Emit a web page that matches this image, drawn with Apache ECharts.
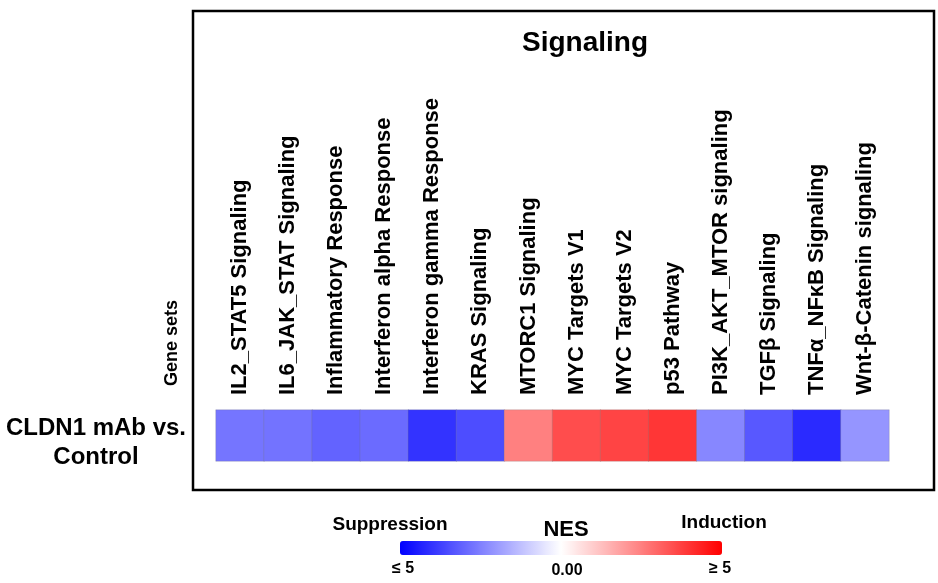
<!DOCTYPE html>
<html>
<head>
<meta charset="utf-8">
<script src="https://cdn.jsdelivr.net/npm/echarts@6/dist/echarts.min.js"></script>
<style>html,body{margin:0;padding:0;background:#fff;}#c{width:938px;height:583px;}</style>
</head>
<body>
<div id="c"></div>
<script>
const geneSets = ['IL2_STAT5 Signaling','IL6_JAK_STAT Signaling','Inflammatory Response','Interferon alpha Response','Interferon gamma Response','KRAS Signaling','MTORC1 Signaling','MYC Targets V1','MYC Targets V2','p53 Pathway','PI3K_AKT_MTOR signaling','TGFβ Signaling','TNFα_NFκB Signaling','Wnt-β-Catenin signaling'];
const comparisons = ['CLDN1 mAb vs.\nControl'];
const nesValues = [-2.7, -2.75, -3.05, -2.9, -4.0, -3.5, 2.5, 3.5, 3.67, 3.95, -2.35, -3.27, -4.18, -2.08];
const nesMin = -5, nesMax = 5;

const FONT = 'Liberation Sans, Arial, sans-serif';
const data = nesValues.map((v, i) => [i, 0, v]);
const rowFont = {fontFamily: FONT, fontSize: 24, fontWeight: 'bold', color: '#000', align: 'center'};

const chart = echarts.init(document.getElementById('c'), null, {renderer: 'canvas'});
chart.setOption({
  animation: false,
  backgroundColor: '#fff',
  title: {
    text: 'Signaling', left: 580, top: 24, textAlign: 'center',
    textStyle: {fontFamily: FONT, fontSize: 28, fontWeight: 'bold', color: '#000'}
  },
  grid: {left: 216, top: 410, width: 673, height: 51, containLabel: false, outerBoundsMode: 'none'},
  xAxis: {
    type: 'category', data: geneSets, position: 'top',
    axisLine: {show: false}, axisTick: {show: false}, splitLine: {show: false},
    axisLabel: {rotate: -90, interval: 0, margin: 15, color: '#000', fontFamily: FONT, fontSize: 22, fontWeight: 'bold'}
  },
  yAxis: {
    type: 'category', data: comparisons,
    axisLine: {show: false}, axisTick: {show: false}, splitLine: {show: false},
    axisLabel: {
      margin: 120, align: 'center', color: '#000', fontFamily: FONT, fontSize: 24, fontWeight: 'bold',
      formatter: v => v.split('\n').map((s, i) => '{l' + (i + 1) + '|' + s + '}').join('\n'),
      rich: {
        l1: Object.assign({lineHeight: 43}, rowFont),
        l2: Object.assign({lineHeight: 14}, rowFont)
      }
    }
  },
  visualMap: {
    type: 'continuous', min: nesMin, max: nesMax, orient: 'horizontal',
    left: 400, top: 541, itemWidth: 14, itemHeight: 322, padding: 0,
    calculable: false, showLabel: false, text: null,
    inRange: {color: ['#0000FF', '#FFFFFF', '#FF0000']}
  },
  series: [{
    type: 'heatmap', data: data,
    itemStyle: {borderColor: 'rgba(120,120,120,0.25)', borderWidth: 1},
    emphasis: {disabled: true}
  }],
  graphic: [
    {type: 'rect', shape: {x: 193, y: 11, width: 741, height: 479}, style: {fill: 'none', stroke: '#000', lineWidth: 2.5}, silent: true},
    {type: 'text', x: 172, y: 343, rotation: Math.PI / 2, style: {text: 'Gene sets', fontFamily: FONT, fontSize: 18, fontWeight: 'bold', fill: '#000', align: 'center', verticalAlign: 'middle'}},
    {type: 'text', x: 390, y: 525, style: {text: 'Suppression', fontFamily: FONT, fontSize: 19, fontWeight: 'bold', fill: '#000', align: 'center', verticalAlign: 'middle'}},
    {type: 'text', x: 566, y: 530, style: {text: 'NES', fontFamily: FONT, fontSize: 22, fontWeight: 'bold', fill: '#000', align: 'center', verticalAlign: 'middle'}},
    {type: 'text', x: 724, y: 523, style: {text: 'Induction', fontFamily: FONT, fontSize: 19, fontWeight: 'bold', fill: '#000', align: 'center', verticalAlign: 'middle'}},
    {type: 'text', x: 403, y: 569, style: {text: '≤ 5', fontFamily: FONT, fontSize: 16, fontWeight: 'bold', fill: '#000', align: 'center', verticalAlign: 'middle'}},
    {type: 'text', x: 567, y: 571, style: {text: '0.00', fontFamily: FONT, fontSize: 16, fontWeight: 'bold', fill: '#000', align: 'center', verticalAlign: 'middle'}},
    {type: 'text', x: 720, y: 569, style: {text: '≥ 5', fontFamily: FONT, fontSize: 16, fontWeight: 'bold', fill: '#000', align: 'center', verticalAlign: 'middle'}}
  ]
});
</script>
</body>
</html>
